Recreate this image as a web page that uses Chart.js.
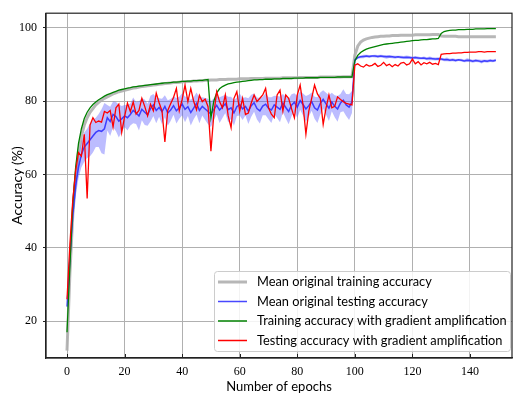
<!DOCTYPE html>
<html>
<head>
<meta charset="utf-8">
<script src="https://cdn.jsdelivr.net/npm/chart.js@4.4.1/dist/chart.umd.min.js"></script>
<style>
  html, body { margin: 0; padding: 0; background: #fff; }
</style>
</head>
<body>
<canvas id="accChart" width="514" height="399"></canvas>
<script>
"use strict";

// Epoch index (x axis)
const epochs = Array.from({ length: 150 }, (_, i) => i);

// Mean original training accuracy
const trainMean = [
  12, 33, 49, 59, 66, 70.5, 73.5, 75.5, 77, 78,
  79, 79.7, 80.3, 80.8, 81.2, 81.6, 82, 82.3, 82.6, 82.8,
  83, 83.2, 83.4, 83.6, 83.7, 83.9, 84, 84.1, 84.2, 84.3,
  84.4, 84.5, 84.6, 84.7, 84.8, 84.9, 85, 85.1, 85.1, 85.2,
  85.3, 85.3, 85.4, 85.4, 85.5, 85.5, 85.6, 85.6, 85.7, 85.7,
  85.8, 85.8, 85.8, 85.9, 85.9, 85.9, 86, 86, 86, 86,
  86.1, 86.1, 86.1, 86.1, 86.2, 86.2, 86.2, 86.2, 86.2, 86.3,
  86.3, 86.3, 86.3, 86.3, 86.3, 86.4, 86.4, 86.4, 86.4, 86.4,
  86.4, 86.5, 86.5, 86.5, 86.5, 86.5, 86.5, 86.5, 86.6, 86.6,
  86.6, 86.6, 86.6, 86.6, 86.6, 86.6, 86.7, 86.7, 86.7, 86.7,
  92.5, 95, 96.1, 96.7, 97, 97.2, 97.4, 97.5, 97.6, 97.7,
  97.7, 97.8, 97.8, 97.9, 97.9, 97.9, 98, 98, 98, 98,
  98, 98.1, 98.1, 98.1, 98.1, 98.1, 98.1, 98.2, 98.2, 98.2,
  97.8, 97.7, 97.7, 97.7, 97.7, 97.7, 97.6, 97.6, 97.6, 97.6,
  97.6, 97.6, 97.6, 97.6, 97.6, 97.6, 97.6, 97.6, 97.6, 97.6
];

// Mean original testing accuracy and its spread
const testMean = [
  24, 37, 49, 57, 62, 65.5, 67.5, 68.5, 69.5, 70.5,
  71.5, 72, 71.8, 72.5, 75.5, 74.5, 76.4, 75.8, 74.6, 75.2,
  76, 75.5, 76.4, 77.5, 76.8, 76, 77.8, 77, 76.3, 78,
  79, 77.5, 78.3, 77.2, 78.6, 76.8, 77.6, 78.8, 77.4, 78.2,
  79.2, 77.8, 78.5, 76.9, 78.1, 79.4, 77.5, 78.6, 77.9, 77.2,
  76.5, 77.8, 78.9, 77.6, 78.4, 79.3, 77.7, 78.2, 76.8, 78.5,
  79.1, 77.9, 78.6, 77.3, 78.8, 79.6, 78, 77.4, 78.7, 79.2,
  78.1, 77.6, 79, 78.4, 77.8, 79.5, 78.3, 77.2, 78.9, 79.7,
  78.4, 80.2, 79.1, 77.9, 78.8, 79.9, 78.2, 77.6, 79.4, 80.5,
  79.3, 78.1, 79.8, 78.6, 77.9, 79.5, 80.3, 79, 78.4, 79.8,
  91.3, 91.9, 92.1, 92.2, 92.3, 92.2, 92.3, 92.3, 92.2, 92.3,
  92.2, 92.1, 92.2, 92.1, 92, 92.1, 92, 91.9, 92, 91.9,
  91.8, 91.9, 91.8, 91.7, 91.8, 91.6, 91.7, 91.6, 91.5, 91.6,
  91.5, 91.3, 91.4, 91.2, 91.3, 91.1, 91.3, 91.2, 91, 91.2,
  91.1, 90.9, 91.1, 91, 90.8, 91, 90.9, 91.1, 91, 91.2
];

const testStd = [
  1.5, 2.5, 3, 3, 3, 3.5, 4, 4, 4.5, 4.5,
  4, 4.5, 6, 7, 3.5, 4, 3.5, 4, 4.5, 3.5,
  3, 3.5, 3, 3.5, 3, 4, 3, 3.5, 3, 3.5,
  3, 3.5, 2.5, 3.5, 3, 3.5, 3, 2.5, 3.5, 3,
  3, 3.5, 2.5, 3.5, 3, 3, 3.5, 2.5, 3, 3.5,
  3.5, 3, 2.5, 3.5, 3, 2.5, 3.5, 3, 3.5, 2.5,
  3, 3, 2.5, 3.5, 3, 2.5, 3, 3.5, 2.5, 3,
  3, 3.5, 2.5, 3, 3.5, 2.5, 3, 3.5, 3, 2.5,
  3, 2.5, 3, 3.5, 3, 2.5, 3, 3.5, 3, 2.5,
  3, 3.5, 2.5, 3, 3.5, 2.5, 3, 3, 3.5, 3,
  0.4, 0.4, 0.4, 0.5, 0.4, 0.4, 0.3, 0.4, 0.4, 0.4,
  0.4, 0.5, 0.4, 0.4, 0.4, 0.3, 0.4, 0.4, 0.5, 0.4,
  0.4, 0.4, 0.4, 0.3, 0.4, 0.4, 0.5, 0.4, 0.4, 0.4,
  0.4, 0.4, 0.5, 0.4, 0.4, 0.4, 0.3, 0.4, 0.4, 0.5,
  0.4, 0.4, 0.4, 0.4, 0.5, 0.4, 0.4, 0.4, 0.4, 0.4
];

// Training accuracy with gradient amplification
const trainAmp = [
  17, 35, 52, 62, 68.5, 72.5, 75.3, 77, 78.2, 79.1,
  79.8, 80.4, 80.9, 81.4, 81.8, 82.1, 82.4, 82.7, 83, 83.2,
  83.4, 83.6, 83.7, 83.9, 84, 84.1, 84.2, 84.3, 84.4, 84.5,
  84.6, 84.7, 84.8, 84.9, 85, 85, 85.1, 85.2, 85.2, 85.3,
  85.4, 85.4, 85.5, 85.5, 85.6, 85.6, 85.7, 85.7, 85.8, 85.9,
  75.5, 80, 82.3, 83.4, 84, 84.4, 84.7, 84.9, 85.1, 85.2,
  85.3, 85.4, 85.5, 85.6, 85.7, 85.8, 85.8, 85.9, 85.9, 86,
  86, 86, 86.1, 86.1, 86.1, 86.2, 86.2, 86.2, 86.2, 86.3,
  86.3, 86.3, 86.3, 86.4, 86.4, 86.4, 86.4, 86.4, 86.5, 86.5,
  86.5, 86.5, 86.5, 86.5, 86.6, 86.6, 86.6, 86.6, 86.6, 86.6,
  91, 92.5, 93.3, 93.8, 94.2, 94.5, 94.7, 94.9, 95.1, 95.3,
  95.5, 95.6, 95.7, 95.8, 95.9, 96, 96.1, 96.2, 96.3, 96.4,
  96.5, 96.6, 96.6, 96.7, 96.8, 96.8, 96.9, 97, 97, 97.1,
  98.5, 99, 99.2, 99.3, 99.4, 99.4, 99.5, 99.5, 99.5, 99.6,
  99.6, 99.6, 99.7, 99.7, 99.7, 99.7, 99.8, 99.8, 99.8, 99.8
];

// Testing accuracy with gradient amplification
const testAmp = [
  26, 41, 53, 61, 66, 65, 71, 53.5, 73.5, 75.5,
  74.2, 74.6, 74.3, 77.2, 76.8, 77.5, 73, 78.2, 79.2, 71.5,
  75.8, 79.5, 77.2, 79.8, 76.5, 77.5, 80.8, 78.6, 76, 79.2,
  77.4, 82.2, 79.6, 77.4, 68.9, 77.5, 79.3, 81, 83.5, 77.4,
  80.5, 84.4, 79.9, 83.5, 80, 77.7, 81.6, 79.9, 80.6, 78.5,
  66.4, 76.4, 82.6, 79.9, 78.2, 81.7, 76, 72.8, 80.8, 82.6,
  77.3, 80.8, 76.4, 76.8, 79.5, 81.7, 79.9, 80.8, 81.7, 83.5,
  78.2, 76.5, 75.5, 81.7, 83, 77.3, 81.7, 80.8, 78, 75.5,
  81.7, 84.4, 79, 71, 77.3, 80.8, 84.4, 82, 80.8, 73.7,
  78.2, 81.7, 78.2, 78.6, 81.2, 80.5, 79.9, 79.4, 79.2, 79,
  89.8, 90.2, 89.6, 89.3, 90, 89.6, 89.8, 90.3, 89.5, 89.8,
  90.6, 89.7, 90.1, 89.4, 90, 89.6, 90.4, 90.6, 89.9, 90.2,
  91.5, 90.2, 90.8, 89.9, 90.5, 90.2, 90.6, 90.1, 90.3, 90,
  92.8, 92.9, 93, 93, 93.1, 93.1, 93.2, 93.2, 93.3, 93.3,
  93.4, 93.4, 93.4, 93.5, 93.5, 93.4, 93.5, 93.5, 93.5, 93.5
];

// Tick labels
const xTicks = [0, 20, 40, 60, 80, 100, 120, 140];
const yTicks = [20, 40, 60, 80, 100];

const seriesLabels = [
  "Mean original training accuracy",
  "Mean original testing accuracy",
  "Training accuracy with gradient amplification",
  "Testing accuracy with gradient amplification"
];

// Turn a value list into {x, y} points
function toPoints(values) {
  return values.map((v, i) => ({ x: epochs[i], y: v }));
}

const bandLow = testMean.map((v, i) => v - testStd[i]);
const bandHigh = testMean.map((v, i) => v + testStd[i]);

const lineBase = { pointRadius: 0, tension: 0, fill: false };

// Black frame plus inward ticks on the x axis
const framePlugin = {
  id: "frame",
  afterDatasetsDraw(chart) {
    const { ctx, chartArea: a, scales } = chart;
    ctx.save();
    ctx.strokeStyle = "#222";
    ctx.lineWidth = 1.2;
    ctx.strokeRect(a.left, a.top, a.right - a.left, a.bottom - a.top);
    ctx.lineWidth = 1;
    xTicks.forEach((t) => {
      const x = Math.round(scales.x.getPixelForValue(t)) + 0.5;
      ctx.beginPath();
      ctx.moveTo(x, a.bottom);
      ctx.lineTo(x, a.bottom - 4);
      ctx.stroke();
    });
    ctx.restore();
  }
};

// Legend drawn inside the plot, lower right
const legendPlugin = {
  id: "innerLegend",
  afterDraw(chart) {
    const { ctx } = chart;
    const items = [
      { color: "rgba(175,175,175,0.9)", width: 3 },
      { color: "rgba(40,40,255,0.85)", width: 1.5 },
      { color: "#008000", width: 1.5 },
      { color: "#ff0000", width: 1.5 }
    ];
    const boxX = 214, boxY = 271, boxW = 296, boxH = 80;
    ctx.save();
    ctx.fillStyle = "rgba(255,255,255,0.85)";
    ctx.strokeStyle = "#cccccc";
    ctx.lineWidth = 1;
    ctx.beginPath();
    ctx.roundRect(boxX + 0.5, boxY + 0.5, boxW, boxH, 3);
    ctx.fill();
    ctx.stroke();
    ctx.font = "12.8px Lato";
    ctx.textBaseline = "middle";
    ctx.fillStyle = "#000";
    items.forEach((it, i) => {
      const y = 282 + i * 19.5;
      ctx.strokeStyle = it.color;
      ctx.lineWidth = it.width;
      ctx.beginPath();
      ctx.moveTo(218, y);
      ctx.lineTo(247, y);
      ctx.stroke();
      ctx.fillText(seriesLabels[i], 257, y);
    });
    ctx.restore();
  }
};

const ctx = document.getElementById("accChart").getContext("2d");
new Chart(ctx, {
  type: "line",
  data: {
    datasets: [
      { ...lineBase, label: seriesLabels[0], data: toPoints(trainMean),
        borderColor: "rgba(175,175,175,0.9)", borderWidth: 3, order: 6 },
      { ...lineBase, label: "band low", data: toPoints(bandLow),
        borderWidth: 0, borderColor: "rgba(0,0,0,0)", order: 5 },
      { ...lineBase, label: "band high", data: toPoints(bandHigh),
        borderWidth: 0, borderColor: "rgba(0,0,0,0)",
        fill: "-1", backgroundColor: "rgba(80,80,255,0.38)", order: 5 },
      { ...lineBase, label: seriesLabels[1], data: toPoints(testMean),
        borderColor: "rgba(40,40,255,0.85)", borderWidth: 1.5, order: 4 },
      { ...lineBase, label: seriesLabels[2], data: toPoints(trainAmp),
        borderColor: "#008000", borderWidth: 1.3, order: 3 },
      { ...lineBase, label: seriesLabels[3], data: toPoints(testAmp),
        borderColor: "#ff0000", borderWidth: 1.3, order: 2 }
    ]
  },
  options: {
    responsive: false,
    animation: false,
    layout: { padding: { top: 6, right: 2, left: 0, bottom: 0 } },
    plugins: {
      legend: { display: false },
      tooltip: { enabled: false }
    },
    scales: {
      x: {
        type: "linear",
        min: -7.3,
        max: 154.6,
        afterBuildTicks: (scale) => { scale.ticks = xTicks.map((v) => ({ value: v })); },
        afterFit: (scale) => { scale.height = 41; },
        grid: { color: "#b0b0b0", lineWidth: 1, drawTicks: false },
        border: { color: "#222", width: 1.2 },
        ticks: { padding: 7, color: "#000", font: { family: "Liberation Serif", size: 12 } },
        title: {
          display: true, text: "Number of epochs", color: "#000",
          font: { family: "Lato", size: 13 }, padding: { top: 0, bottom: 4 }
        }
      },
      y: {
        min: 10,
        max: 104,
        afterBuildTicks: (scale) => { scale.ticks = yTicks.map((v) => ({ value: v })); },
        afterFit: (scale) => { scale.width = 46; },
        grid: { color: "#b0b0b0", lineWidth: 1, tickLength: 3, tickColor: "#222" },
        border: { color: "#222", width: 1.2 },
        ticks: { padding: 6, color: "#000", font: { family: "Liberation Serif", size: 12 } },
        title: {
          display: true, text: "Accuracy (%)", color: "#000",
          font: { family: "Lato", size: 14 }, padding: { top: 9, bottom: 0 }
        }
      }
    }
  },
  plugins: [framePlugin, legendPlugin]
});
</script>
</body>
</html>
